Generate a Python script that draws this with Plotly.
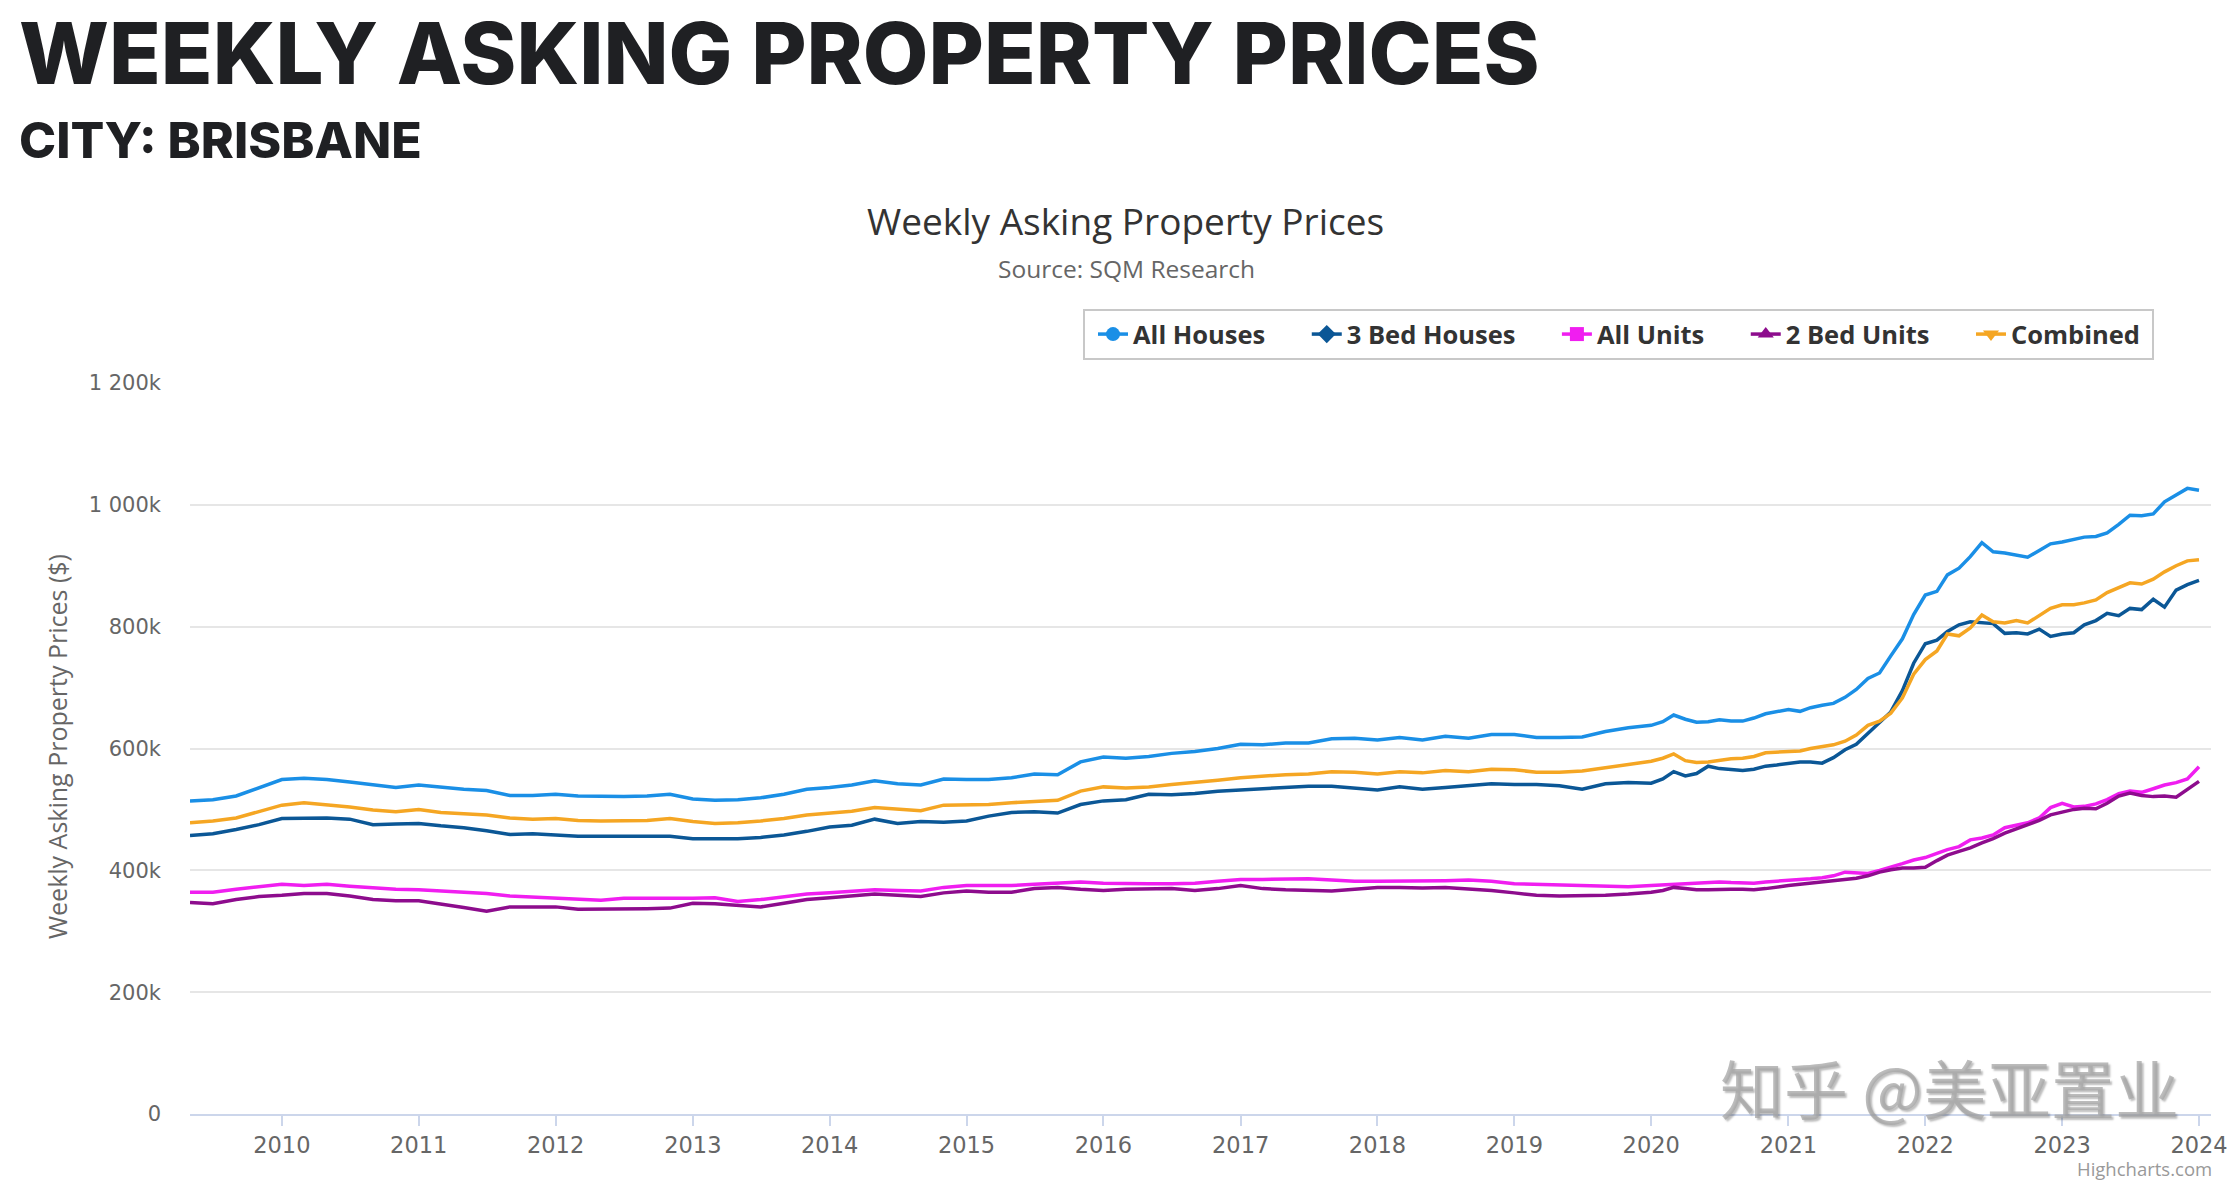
import plotly.graph_objects as go

# ---------------- data (values in $k) ----------------
dates = [
    "2009-05-01", "2009-07-01", "2009-09-01", "2009-11-01",
    "2010-01-01", "2010-03-01", "2010-05-01", "2010-07-01", "2010-09-01", "2010-11-01",
    "2011-01-01", "2011-03-01", "2011-05-01", "2011-07-01", "2011-09-01", "2011-11-01",
    "2012-01-01", "2012-03-01", "2012-05-01", "2012-07-01", "2012-09-01", "2012-11-01",
    "2013-01-01", "2013-03-01", "2013-05-01", "2013-07-01", "2013-09-01", "2013-11-01",
    "2014-01-01", "2014-03-01", "2014-05-01", "2014-07-01", "2014-09-01", "2014-11-01",
    "2015-01-01", "2015-03-01", "2015-05-01", "2015-07-01", "2015-09-01", "2015-11-01",
    "2016-01-01", "2016-03-01", "2016-05-01", "2016-07-01", "2016-09-01", "2016-11-01",
    "2017-01-01", "2017-03-01", "2017-05-01", "2017-07-01", "2017-09-01", "2017-11-01",
    "2018-01-01", "2018-03-01", "2018-05-01", "2018-07-01", "2018-09-01", "2018-11-01",
    "2019-01-01", "2019-03-01", "2019-05-01", "2019-07-01", "2019-09-01", "2019-11-01",
    "2020-01-01", "2020-02-01", "2020-03-01", "2020-04-01", "2020-05-01", "2020-06-01",
    "2020-07-01", "2020-08-01", "2020-09-01", "2020-10-01", "2020-11-01", "2020-12-01",
    "2021-01-01", "2021-02-01", "2021-03-01", "2021-04-01", "2021-05-01", "2021-06-01",
    "2021-07-01", "2021-08-01", "2021-09-01", "2021-10-01", "2021-11-01", "2021-12-01",
    "2022-01-01", "2022-02-01", "2022-03-01", "2022-04-01", "2022-05-01", "2022-06-01",
    "2022-07-01", "2022-08-01", "2022-09-01", "2022-10-01", "2022-11-01", "2022-12-01",
    "2023-01-01", "2023-02-01", "2023-03-01", "2023-04-01", "2023-05-01", "2023-06-01",
    "2023-07-01", "2023-08-01", "2023-09-01", "2023-10-01", "2023-11-01", "2023-12-01",
    "2024-01-01",
]

all_houses = [
    514, 516, 522, 535,
    549, 551, 549, 545, 541, 536,
    540, 536, 533, 531, 523, 523,
    525, 522, 521, 521, 522, 525,
    517, 515, 516, 519, 525, 533,
    536, 540, 547, 542, 540, 550,
    549, 549, 552, 558, 557, 578,
    586, 584, 587, 592, 595, 600,
    607, 606, 609, 609, 616, 617,
    614, 618, 614, 620, 617, 623,
    623, 618, 618, 619, 628, 634,
    638, 644, 655, 648, 643, 644, 647, 645, 645, 650, 657, 660,
    664, 661, 667, 671, 674, 684, 697, 715, 724, 752, 780, 820,
    852, 858, 885, 896, 915, 938, 923, 921, 918, 914, 925, 936,
    939, 943, 947, 948, 954, 968, 983, 982, 985, 1005, 1017, 1027,
    1024,
]

bed3_houses = [
    457, 460, 467, 475,
    485, 486, 486, 484, 475, 476,
    477, 473, 470, 465, 459, 460,
    458, 456, 456, 456, 455, 456,
    452, 452, 452, 454, 458, 464,
    471, 474, 484, 477, 480, 479,
    481, 489, 495, 496, 494, 508,
    514, 516, 525, 524, 526, 530,
    532, 534, 537, 538, 538, 535,
    532, 537, 533, 536, 539, 542,
    541, 541, 539, 533, 542, 544,
    543, 550, 562, 555, 559, 571, 567, 565, 564, 566, 571, 573,
    575, 578, 578, 576, 585, 598, 607, 625, 642, 660, 695, 740,
    772, 778, 792, 803, 808, 807, 805, 789, 790, 788, 796, 784,
    788, 790, 803, 810, 822, 818, 830, 828, 845, 832, 860, 869,
    876,
]

all_units = [
    364, 364, 369, 373,
    377, 375, 377, 374, 371, 369,
    368, 366, 364, 362, 358, 356,
    355, 353, 351, 354, 354, 353,
    354, 355, 349, 352, 357, 361,
    363, 366, 368, 367, 366, 372,
    375, 375, 375, 377, 379, 381,
    379, 378, 378, 378, 379, 382,
    385, 385, 386, 386, 384, 382,
    382, 382, 383, 383, 384, 382,
    378, 377, 375, 374, 373, 373,
    375, 376, 377, 377, 378, 380, 381, 380, 379, 379, 381, 382,
    383, 384, 386, 388, 391, 397, 396, 395, 400, 405, 411, 417,
    421, 428, 434, 439, 450, 453, 458, 470, 474, 478, 486, 503,
    510, 504, 505, 509, 516, 526, 530, 528, 534, 540, 544, 550,
    570,
]

bed2_units = [
    347, 345, 352, 357,
    359, 362, 362, 358, 352, 350,
    350, 345, 339, 333, 340, 340,
    340, 336, 336, 337, 337, 338,
    346, 345, 343, 340, 346, 352,
    355, 358, 361, 359, 357, 363,
    366, 364, 364, 370, 372, 369,
    367, 369, 370, 370, 367, 370,
    375, 370, 368, 367, 366, 369,
    372, 372, 371, 372, 370, 367,
    363, 359, 358, 358, 359, 361,
    364, 367, 372, 370, 368, 368, 369, 369, 369, 368, 370, 373,
    375, 377, 379, 381, 383, 385, 387, 391, 397, 401, 404, 404,
    405, 416, 425, 431, 437, 445, 452, 461, 468, 475, 482, 491,
    495, 500, 502, 501, 510, 522, 527, 523, 521, 522, 520, 532,
    546,
]

combined = [
    478, 481, 486, 497,
    507, 511, 508, 504, 499, 496,
    500, 495, 493, 491, 486, 484,
    485, 482, 481, 481, 482, 485,
    480, 477, 478, 481, 485, 491,
    494, 497, 503, 500, 498, 507,
    508, 508, 511, 513, 515, 530,
    537, 535, 537, 541, 544, 548,
    552, 555, 557, 558, 562, 561,
    558, 562, 560, 564, 562, 566,
    565, 561, 561, 563, 568, 574,
    579, 584, 591, 580, 577, 578, 581, 583, 584, 587, 593, 594,
    595, 596, 600, 603, 606, 612, 622, 638, 645, 658, 683, 722,
    746, 760, 788, 785, 798, 819, 808, 806, 810, 806, 818, 830,
    836, 836, 839, 844, 856, 864, 872, 870, 878, 890, 900, 908,
    910,
]

series_names = ["All Houses", "3 Bed Houses", "All Units", "2 Bed Units", "Combined"]
series_values = [all_houses, bed3_houses, all_units, bed2_units, combined]
series_colors = ["#1a8fe6", "#0b5796", "#f01ef0", "#8d0c8d", "#f5a623"]
series_symbols = ["circle", "diamond", "square", "triangle-up", "triangle-down"]

y_tickvals = [0, 200000, 400000, 600000, 800000, 1000000, 1200000]
y_ticktext = ["0", "200k", "400k", "600k", "800k", "1 000k", "1 200k"]

# ---------------- figure ----------------
W, H = 2240, 1186
L, R, T, B = 190, 29, 383, 72
PW, PH = W - L - R, H - T - B


def px(x):
    return (x - L) / PW


def py(y):
    return (H - B - y) / PH


fig = go.Figure()

for name, vals, col in zip(series_names, series_values, series_colors):
    fig.add_trace(go.Scatter(
        x=dates, y=[v * 1000 for v in vals], mode="lines", name=name,
        line=dict(color=col, width=3.5), showlegend=False, legendgroup=name,
    ))

pad = "\u00a0" * 4
for i, (name, col, sym) in enumerate(zip(series_names, series_colors, series_symbols)):
    label = name + (pad if i < len(series_names) - 1 else "\u00a0")
    fig.add_trace(go.Scatter(
        x=[None], y=[None], mode="lines+markers", name=label, legendgroup=name,
        line=dict(color=col, width=3.5),
        marker=dict(symbol=sym, size=14, color=col),
    ))

fig.update_layout(
    width=W, height=H,
    margin=dict(l=L, r=R, t=T, b=B, autoexpand=False),
    paper_bgcolor="white", plot_bgcolor="white",
    showlegend=True,
    legend=dict(
        orientation="h", xref="container", yref="container",
        x=2154 / W, xanchor="right", y=1 - 309 / H, yanchor="top",
        bordercolor="#c8c8c8", borderwidth=2, bgcolor="white",
        font=dict(family="Open Sans", size=25.5, color="#333333", weight=700),
        itemwidth=30, tracegroupgap=0, indentation=10,
    ),
    xaxis=dict(
        type="date",
        range=["2009-05-01", "2024-02-02"],
        tick0="2010-01-01", dtick="M12", tickformat="%Y",
        ticks="outside", ticklen=10, tickwidth=2, tickcolor="#ccd6eb",
        showline=True, linecolor="#ccd6eb", linewidth=2,
        showgrid=False, zeroline=False,
        tickfont=dict(family="DejaVu Sans", size=22.5, color="#666666"),
        ticklabelstandoff=0,
    ),
    yaxis=dict(
        range=[0, 1200000],
        tickvals=y_tickvals, ticktext=y_ticktext,
        showgrid=True, gridcolor="#e6e6e6", gridwidth=2,
        zeroline=False, showline=False, ticks="",
        tickfont=dict(family="DejaVu Sans", size=21, color="#666666"),
        ticklabelstandoff=28,
    ),
)

annotations = [
    dict(text="WEEKLY ASKING PROPERTY PRICES", x=px(17), y=py(53), xanchor="left", yanchor="middle",
         font=dict(family="Inter", size=85, color="#1f2023", weight=800)),
    dict(text="CITY: BRISBANE", x=px(17), y=py(140), xanchor="left", yanchor="middle",
         font=dict(family="Inter", size=50, color="#1f2023", weight=800)),
    dict(text="Weekly Asking Property Prices", x=px(1125), y=py(221), xanchor="center", yanchor="middle",
         font=dict(family="Open Sans", size=37, color="#333333")),
    dict(text="Source: SQM Research", x=px(1126), y=py(269), xanchor="center", yanchor="middle",
         font=dict(family="Open Sans", size=24.5, color="#666666")),
    dict(text="Weekly Asking Property Prices ($)", x=px(57), y=py(747), xanchor="center", yanchor="middle",
         textangle=-90, font=dict(family="Open Sans", size=25, color="#666666")),
    dict(text="知乎 @美亚置业", x=px(2181), y=py(1086), xanchor="right", yanchor="middle",
         font=dict(family="Noto Sans CJK SC", size=64, color="rgba(165,165,165,0.75)",
                   shadow="2px 2px 2px rgba(0,0,0,0.35)")),
    dict(text="Highcharts.com", x=px(2214), y=py(1168), xanchor="right", yanchor="middle",
         font=dict(family="Open Sans", size=18.5, color="#999999")),
]
for a in annotations:
    a.update(xref="paper", yref="paper", showarrow=False)
fig.update_layout(annotations=annotations)

fig.write_html("out.html")
